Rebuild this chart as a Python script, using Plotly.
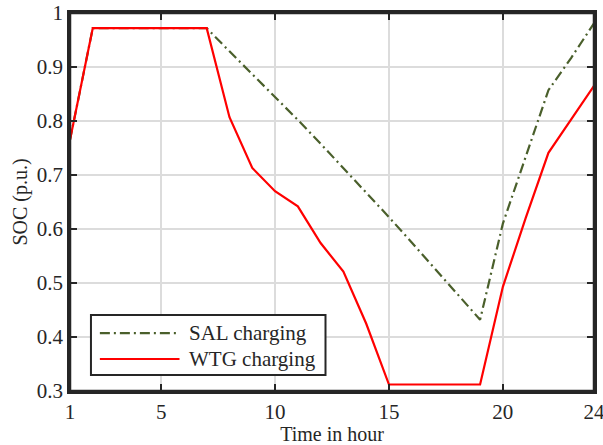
import plotly.graph_objects as go

hours = list(range(1, 25))
sal_charging = [0.765, 0.972, 0.972, 0.972, 0.972, 0.972, 0.972, 0.929, 0.887, 0.845,
                0.802, 0.758, 0.713, 0.668, 0.622, 0.575, 0.528, 0.480, 0.432, 0.610,
                0.733, 0.857, 0.917, 0.981]
wtg_charging = [0.765, 0.972, 0.972, 0.972, 0.972, 0.972, 0.972, 0.807, 0.713, 0.670,
                0.642, 0.574, 0.521, 0.425, 0.312, 0.312, 0.312, 0.312, 0.312, 0.493,
                0.620, 0.741, 0.803, 0.865]
x_ticks = [1, 5, 10, 15, 20, 24]
y_ticks = [0.3, 0.4, 0.5, 0.6, 0.7, 0.8, 0.9, 1.0]
y_tick_labels = ["0.3", "0.4", "0.5", "0.6", "0.7", "0.8", "0.9", "1"]
series_names = ["SAL charging", "WTG charging"]

SAL_COLOR = "#4a5f2b"
WTG_COLOR = "#ff0000"
SAL_DASH = "10px,4px,2px,4px"
FONT = "Liberation Serif, Times New Roman, serif"
AX = "#262626"

fig = go.Figure()
fig.add_trace(go.Scatter(x=hours, y=sal_charging, mode="lines", name=series_names[0],
                         line=dict(color=SAL_COLOR, width=2.2, dash=SAL_DASH), showlegend=False))
fig.add_trace(go.Scatter(x=hours, y=wtg_charging, mode="lines", name=series_names[1],
                         line=dict(color=WTG_COLOR, width=2.2), showlegend=False))


def axis_style(**kw):
    d = dict(showline=True, linecolor=AX, linewidth=2.5, mirror="ticks",
             ticks="inside", ticklen=7, tickwidth=2, tickcolor=AX,
             showgrid=True, gridcolor="#dcdcdc", gridwidth=1.5, zeroline=False,
             automargin=False, ticklabeloverflow="allow",
             tickfont=dict(family=FONT, size=21, color=AX))
    d.update(kw)
    return d


fig.update_layout(
    xaxis=axis_style(range=[1, 24], tickvals=x_ticks,
                     title=dict(text="Time in hour", font=dict(family=FONT, size=20, color=AX), standoff=2)),
    yaxis=axis_style(range=[0.3, 1.0], tickvals=y_ticks, ticktext=y_tick_labels,
                     title=dict(text="SOC (p.u.)", font=dict(family=FONT, size=20, color=AX), standoff=4)),
)

# frame around plot area as a closed rectangle, drawn above everything
fig.add_shape(type="rect", xref="paper", yref="paper", x0=0, x1=1, y0=0, y1=1,
              line=dict(color=AX, width=2.5), fillcolor="rgba(0,0,0,0)", layer="above")

# custom legend box (paper coordinates)
fig.add_shape(type="rect", xref="paper", yref="paper", x0=0.040, x1=0.4876, y0=0.0423, y1=0.201,
              line=dict(color=AX, width=2), fillcolor="white", layer="above")
legend_rows = [(0.153, SAL_COLOR, SAL_DASH), (0.0847, WTG_COLOR, "solid")]
for name, (yy, col, dash) in zip(series_names, legend_rows):
    fig.add_shape(type="line", xref="paper", yref="paper", x0=0.057, x1=0.209, y0=yy, y1=yy,
                  line=dict(color=col, width=2.2, dash=dash), layer="above")
    fig.add_annotation(xref="paper", yref="paper", x=0.2224, y=yy, text=name, showarrow=False,
                       xanchor="left", yanchor="middle",
                       font=dict(family=FONT, size=21, color=AX))

fig.update_layout(width=603, height=445, margin=dict(l=70, r=9, t=13, b=54),
                  paper_bgcolor="white", plot_bgcolor="white", showlegend=False)

fig.write_html("out.html", config={"displayModeBar": False},
               post_script="document.body.style.margin='0';document.body.style.overflow='hidden';")
